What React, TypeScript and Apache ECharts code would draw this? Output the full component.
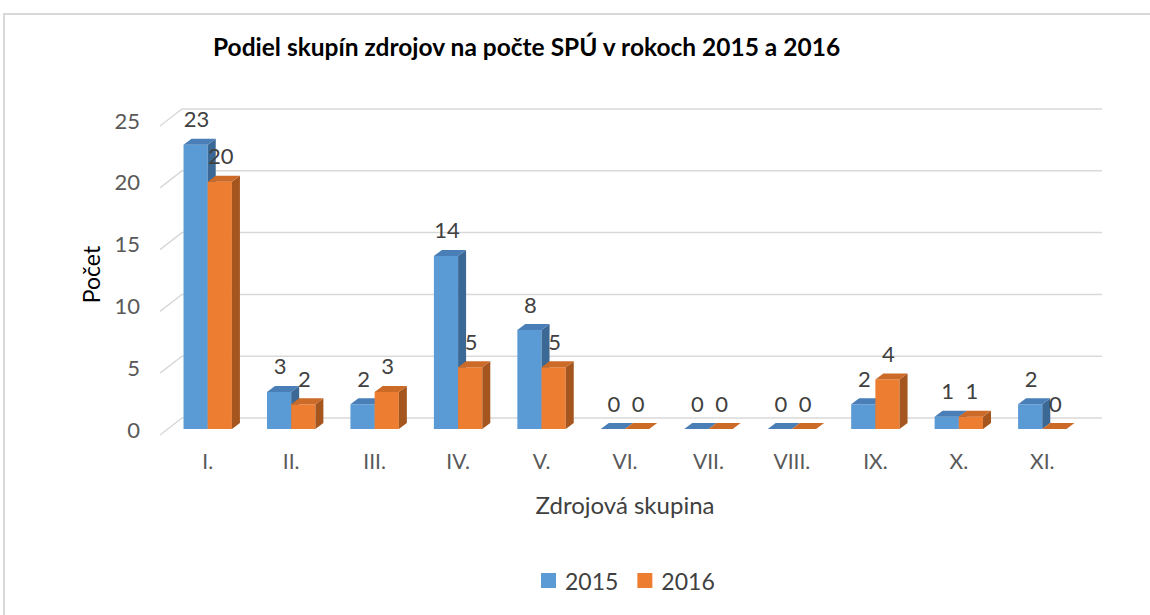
import React, { useEffect, useRef } from "react";
import * as echarts from "echarts";

const categories = ["I.", "II.", "III.", "IV.", "V.", "VI.", "VII.", "VIII.", "IX.", "X.", "XI."];
const values2015 = [23, 3, 2, 14, 8, 0, 0, 0, 2, 1, 2];
const values2016 = [20, 2, 3, 5, 5, 0, 0, 0, 4, 1, 0];
const yTicks = [0, 5, 10, 15, 20, 25];
const seriesNames = ["2015", "2016"];

const FONT = "Lato, 'Open Sans', sans-serif";
const palettes = [
  { front: "#5B9BD5", top: "#4A7EB6", side: "#3B6894" },
  { front: "#ED7D31", top: "#CC6A28", side: "#A5561F" },
];

function barRenderer(k: number) {
  return (params: any, api: any) => {
    const idx = api.value(0);
    const v = api.value(1);
    const p0 = api.coord([idx, 0]);
    const p1 = api.coord([idx, v]);
    const cx = p0[0];
    const y0 = p0[1];
    const y1 = p1[1];
    const band = api.size([1, 0])[0];
    const w = band * 0.29;
    const x0 = k === 0 ? cx - w : cx;
    const x1 = x0 + w;
    const dx = 8;
    const dy = -6;
    const pal = palettes[k];
    const children: any[] = [];
    if (y0 - y1 > 0.5) {
      children.push({
        type: "rect",
        shape: { x: x0, y: y1, width: w, height: y0 - y1 },
        style: { fill: pal.front },
      });
      children.push({
        type: "polygon",
        shape: { points: [[x1, y1], [x1 + dx, y1 + dy], [x1 + dx, y0 + dy], [x1, y0]] },
        style: { fill: pal.side },
      });
    }
    children.push({
      type: "polygon",
      shape: { points: [[x0, y1], [x0 + dx, y1 + dy], [x1 + dx, y1 + dy], [x1, y1]] },
      style: { fill: pal.top },
    });
    children.push({
      type: "text",
      style: {
        x: (x0 + x1) / 2 + 1,
        y: y1 - 15,
        text: String(v),
        align: "center",
        verticalAlign: "bottom",
        fill: "#404040",
        fontSize: 22,
        fontFamily: FONT,
      },
    });
    return { type: "group", children };
  };
}

function wallRenderer(params: any, api: any) {
  const v = api.value(1);
  const y = api.coord([0, v])[1];
  const cs = params.coordSys;
  const x = cs.x;
  const right = cs.x + cs.width;
  return {
    type: "polyline",
    shape: { points: [[x - 6, y + 6], [x + 16, y - 11], [right + 18, y - 11]] },
    style: { stroke: "#d9d9d9", lineWidth: 1.5, fill: "none" },
  };
}

export default function App() {
  const ref = useRef<HTMLDivElement>(null);
  useEffect(() => {
    if (!ref.current) return;
    const chart = echarts.init(ref.current, undefined, { renderer: "svg" });
    chart.setOption({
      animation: false,
      backgroundColor: "#ffffff",
      title: {
        text: "Podiel skupín zdrojov na počte SPÚ v rokoch 2015 a 2016",
        left: 208,
        top: 29,
        textStyle: { fontSize: 24.5, fontWeight: "bold", fontFamily: FONT, color: "#000000" },
      },
      legend: {
        data: seriesNames,
        left: 536,
        top: 564,
        icon: "rect",
        itemWidth: 15,
        itemHeight: 15,
        itemGap: 19,
        textStyle: { fontSize: 23, fontFamily: FONT, color: "#404040", padding: [0, 0, 0, 4] },
      },
      graphic: [
        {
          type: "rect",
          shape: { x: 4, y: 14, width: 1300, height: 800 },
          style: { fill: "none", stroke: "#d9d9d9", lineWidth: 2 },
          silent: true,
          z: -1,
        },
      ],
      grid: { left: 166, right: 66, top: 120, bottom: 186, containLabel: false },
      xAxis: {
        type: "category",
        data: categories,
        axisLine: { show: false },
        axisTick: { show: false },
        axisLabel: { margin: 21, fontSize: 21, fontFamily: FONT, color: "#595959" },
        name: "Zdrojová skupina",
        nameLocation: "middle",
        nameGap: 63,
        nameTextStyle: { fontSize: 24, fontFamily: FONT, color: "#404040" },
      },
      yAxis: {
        type: "value",
        min: 0,
        max: 25,
        interval: 5,
        axisLine: { show: false },
        axisTick: { show: false },
        splitLine: { show: false },
        axisLabel: {
          margin: 26,
          fontSize: 22,
          fontFamily: FONT,
          color: "#595959",
          padding: [12, 0, 0, 0],
        },
        name: "Počet",
        nameLocation: "middle",
        nameRotate: 90,
        nameGap: 64,
        nameTextStyle: { fontSize: 23, fontFamily: FONT, color: "#000000" },
      },
      series: [
        {
          type: "custom",
          name: "wall",
          silent: true,
          clip: false,
          z: 1,
          renderItem: wallRenderer,
          encode: { x: 0, y: 1 },
          data: yTicks.map((t) => [0, t]),
        },
        {
          type: "custom",
          name: seriesNames[0],
          clip: false,
          z: 2,
          itemStyle: { color: palettes[0].front },
          renderItem: barRenderer(0),
          encode: { x: 0, y: 1 },
          data: values2015.map((v, i) => [i, v]),
        },
        {
          type: "custom",
          name: seriesNames[1],
          clip: false,
          z: 3,
          itemStyle: { color: palettes[1].front },
          renderItem: barRenderer(1),
          encode: { x: 0, y: 1 },
          data: values2016.map((v, i) => [i, v]),
        },
      ],
    });
    return () => chart.dispose();
  }, []);
  return (
    <div
      ref={ref}
      style={{ position: "absolute", left: 0, top: 0, width: 1150, height: 615 }}
    />
  );
}
